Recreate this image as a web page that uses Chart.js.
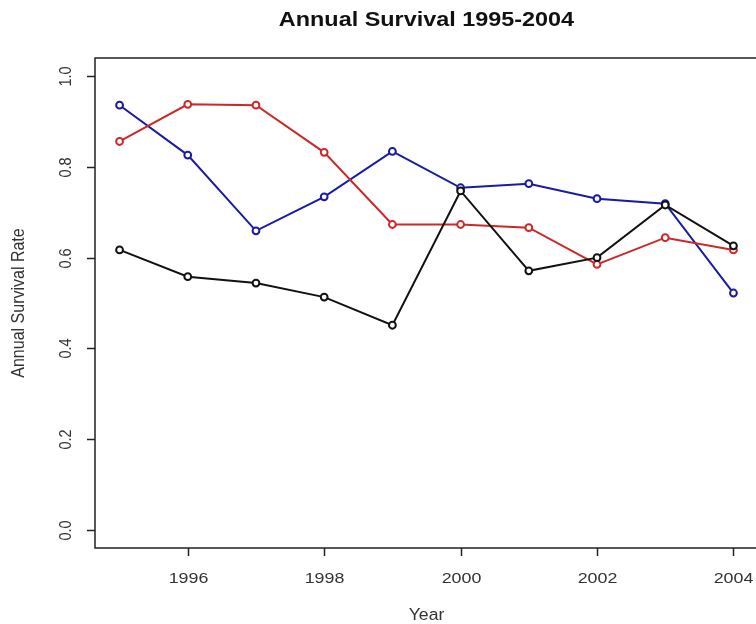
<!DOCTYPE html>
<html>
<head>
<meta charset="utf-8">
<script src="https://cdn.jsdelivr.net/npm/chart.js@4"></script>
<style>
  html, body { margin: 0; padding: 0; background: #fff; overflow: hidden; }
  #wrap { width: 780px; height: 624px; position: relative; }
</style>
</head>
<body>
<div id="wrap"><canvas id="survivalChart"></canvas></div>
<script>
// values
const years = [1995, 1996, 1997, 1998, 1999, 2000, 2001, 2002, 2003, 2004];
const blueSeries = [0.936, 0.826, 0.659, 0.734, 0.834, 0.754, 0.763, 0.730, 0.719, 0.522];
const redSeries = [0.856, 0.938, 0.936, 0.832, 0.673, 0.673, 0.666, 0.585, 0.644, 0.617];
const blackSeries = [0.617, 0.558, 0.544, 0.513, 0.451, 0.747, 0.571, 0.600, 0.716, 0.626];
const xTicks = [1996, 1998, 2000, 2002, 2004];
const yTicks = [0.0, 0.2, 0.4, 0.6, 0.8, 1.0];

function toPoints(values) {
    return values.map((v, i) => ({ x: years[i], y: v }));
}

function makeSet(label, values, color) {
    return {
        label: label,
        data: toPoints(values),
        borderColor: color,
        borderWidth: 2,
        pointRadius: 3.4,
        pointBorderWidth: 2,
        pointBorderColor: color,
        pointBackgroundColor: '#fff',
        tension: 0
    };
}

// text a bit wider than tall, like the original picture
function wideText(ctx, text, x, y, sx, angle) {
    ctx.save();
    ctx.translate(x, y);
    if (angle) ctx.rotate(angle);
    ctx.scale(sx, 1);
    ctx.fillText(text, 0, 0);
    ctx.restore();
}

// R-style box, ticks and labels drawn from the chart's scales
const rAxes = {
    id: 'rAxes',
    afterDraw(chart) {
        const ctx = chart.ctx;
        const area = chart.chartArea;
        const xs = chart.scales.x;
        const ys = chart.scales.y;
        const midX = (area.left + area.right) / 2;
        ctx.save();
        ctx.strokeStyle = '#222';
        ctx.lineWidth = 1.5;
        ctx.strokeRect(area.left, area.top, area.right - area.left, area.bottom - area.top);

        ctx.fillStyle = '#333';
        ctx.textAlign = 'center';
        ctx.textBaseline = 'middle';
        // x ticks
        ctx.font = '15.5px "Liberation Sans", Arial, sans-serif';
        xTicks.forEach(t => {
            const px = Math.round(xs.getPixelForValue(t)) + 0.5;
            ctx.beginPath();
            ctx.moveTo(px, area.bottom);
            ctx.lineTo(px, area.bottom + 8);
            ctx.stroke();
            wideText(ctx, String(t), px, 579, 1.15, 0);
        });
        // y ticks, labels rotated like R
        ctx.font = '14.5px "Liberation Sans", Arial, sans-serif';
        yTicks.forEach(t => {
            const py = Math.round(ys.getPixelForValue(t)) + 0.5;
            ctx.beginPath();
            ctx.moveTo(area.left, py);
            ctx.lineTo(area.left - 8, py);
            ctx.stroke();
            ctx.save();
            ctx.translate(66, py);
            ctx.rotate(-Math.PI / 2);
            ctx.scale(1, 1.15);
            ctx.fillText(t.toFixed(1), 0, 0);
            ctx.restore();
        });

        // axis titles
        ctx.font = '16px "Liberation Sans", Arial, sans-serif';
        wideText(ctx, 'Year', midX, 616, 1.1, 0);
        ctx.save();
        ctx.translate(19, (area.top + area.bottom) / 2);
        ctx.rotate(-Math.PI / 2);
        ctx.scale(1, 1.1);
        ctx.fillText('Annual Survival Rate', 0, 0);
        ctx.restore();

        // main title
        ctx.fillStyle = '#111';
        ctx.font = 'bold 19.5px "Liberation Sans", Arial, sans-serif';
        wideText(ctx, 'Annual Survival 1995-2004', midX, 21, 1.2, 0);
        ctx.restore();
    }
};

new Chart(document.getElementById('survivalChart'), {
    type: 'line',
    data: {
        datasets: [
            makeSet('Black', blackSeries, '#111111'),
            makeSet('Red', redSeries, '#cc2828'),
            makeSet('Blue', blueSeries, '#1a1aa6')
        ]
    },
    options: {
        responsive: true,
        maintainAspectRatio: false,
        animation: false,
        layout: { padding: { left: 95, top: 58, right: 22, bottom: 76 } },
        scales: {
            x: { type: 'linear', min: 1994.64, max: 2004.36, display: false },
            y: { type: 'linear', min: -0.04, max: 1.04, display: false }
        },
        plugins: {
            legend: { display: false },
            tooltip: { enabled: false },
            title: { display: false }
        }
    },
    plugins: [rAxes]
});
</script>
</body>
</html>
